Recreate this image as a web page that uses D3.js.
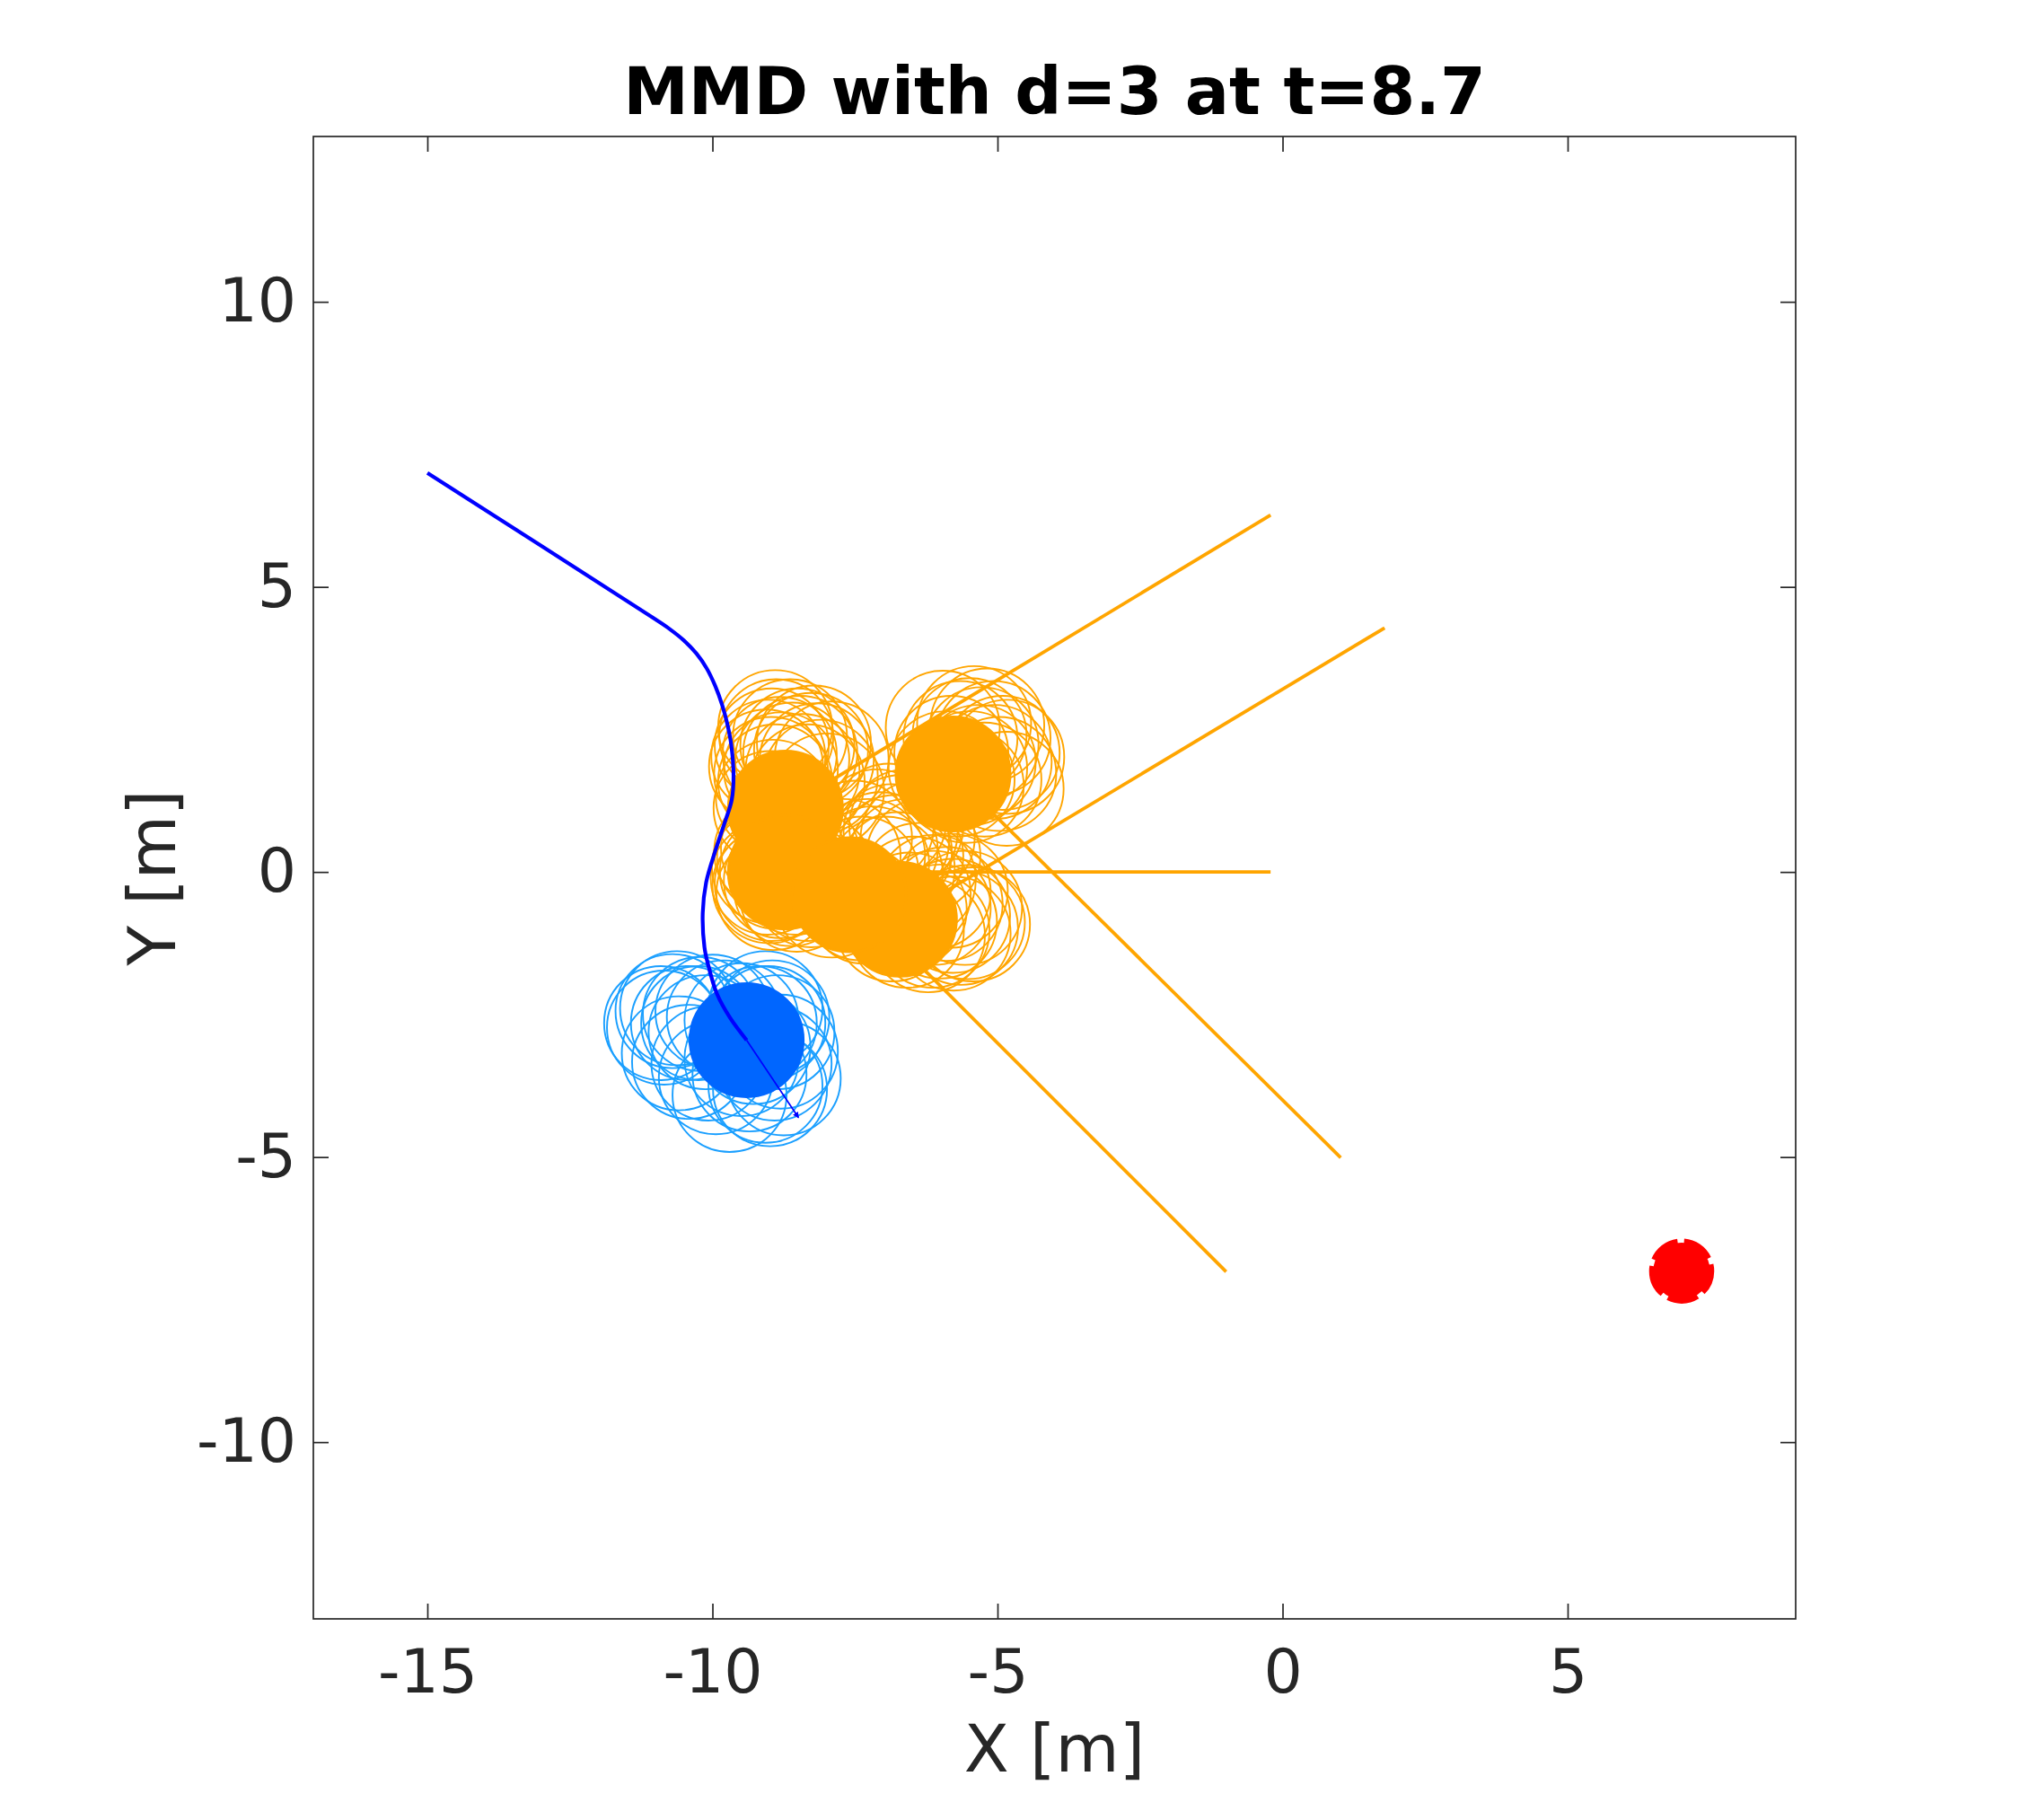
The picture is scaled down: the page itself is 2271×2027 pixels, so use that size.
<!DOCTYPE html>
<html>
<head>
<meta charset="utf-8">
<script src="https://cdn.jsdelivr.net/npm/d3@7"></script>
<style>
  html, body { margin: 0; padding: 0; background: #fff; }
  svg { display: block; font-family: "DejaVu Sans", sans-serif; }
</style>
</head>
<body>
<div id="chart"></div>
<script>
// MMD snapshot: robot path, obstacle tracks and sampled obstacle / robot positions

const xTicks = [-15, -10, -5, 0, 5];
const yTicks = [-10, -5, 0, 5, 10];
const xDomain = [-17, 9];
const yDomain = [-13.1, 12.9];

const bodyRadius = 1.0;
const goalRadius = 0.5;
const goal = [7, -7];

// robot trajectory so far (blue)
const robotPath = [
  [-15, 7], [-11.0, 4.43], [-10.75, 4.26], [-10.5, 4.06], [-10.28, 3.83], [-10.1, 3.57],
  [-9.95, 3.26], [-9.83, 2.93], [-9.74, 2.6], [-9.67, 2.23], [-9.63, 1.69], [-9.66, 1.27],
  [-9.79, 0.85], [-9.95, 0.37], [-10.11, -0.18], [-10.17, -0.72], [-10.14, -1.32],
  [-10.08, -1.61], [-9.92, -2.14], [-9.69, -2.56], [-9.40, -2.95]
];
const robotHeading = [-8.49, -4.31];

// robot position samples, offsets from current position
const robotSamples = [
  [-1.5, 0.3], [-1.22, 0.56], [-1.01, -0.38], [-0.85, 0.3], [-0.72, 0.14],
  [-0.54, -0.65], [-0.3, -0.96], [0.33, -0.8], [0.65, -0.67], [-0.67, -0.41],
  [0.49, -0.41], [0.41, -0.86], [0.38, 0.3], [0.33, 0.56], [-1.3, 0.51],
  [-0.82, 0.46], [-0.4, 0.4], [-0.09, 0.35], [0.23, 0.3], [-1.45, 0.22],
  [-1.19, -0.23], [-0.09, -0.33], [0.12, -0.12], [-1.03, 0.3], [0.54, 0.14],
  [-0.6, 0.5], [0.05, -0.6], [0.45, 0.4], [0.6, -0.2]
];

// obstacles: start point and current position (orange)
const obstacleStart = [[-0.21, 6.26], [1.79, 4.28], [-0.21, 0.0], [1.02, -5.01], [-0.99, -7.01]];
const obstacleNow = [[-8.72, 1.12], [-6.72, -0.83], [-8.72, 0.0], [-5.78, 1.72], [-7.6, -0.4]];

// obstacle position samples, offsets from current position
const obstacleSamples = [
  [[-0.18, 1.42], [0.26, 0.97], [0.81, 0.87], [-0.34, 0.73], [-0.08, 0.68], [-0.16, 1.26],
   [0.21, 1.1], [0.73, 0.31], [0.39, 0.47], [-0.24, 1.1], [0.08, 1.26], [0.55, 0.84],
   [-0.26, 0.0], [-0.18, 0.47], [0.45, 1.02], [0.12, 0.85], [-0.3, 0.9], [0.62, 0.55],
   [-0.22, 0.2], [-0.25, 0.6], [-0.1, 0.95], [0.3, 0.65], [0.5, 1.15]],
  [[1.29, -0.09], [0.94, 0.06], [0.6, 0.48], [0.58, -0.2], [0.13, -0.2], [0.5, -0.28],
   [0.42, 1.11], [0.18, 0.17], [0.81, 0.27], [0.34, 0.69], [-0.13, -0.09], [1.08, -0.15],
   [0.71, -0.04], [0.9, 0.5], [0.25, 0.45], [1.15, 0.2], [1.2, -0.05], [0.95, -0.25],
   [0.6, 0.2]],
  [[-0.31, -0.1], [-0.21, -0.37], [-0.24, -0.21], [-0.08, -0.16], [0.18, -0.1], [-0.29, 0.1],
   [0.39, -0.21], [0.08, 0.21], [-0.13, 0.42], [0.55, 0.0], [0.3, 0.3], [-0.2, 0.25],
   [0.1, -0.3], [0.45, -0.32], [-0.28, -0.25], [-0.15, 0.0], [0.2, -0.4], [-0.25, 0.35]],
  [[-0.18, 0.81], [0.29, 0.68], [0.5, 0.52], [-0.13, 0.1], [0.37, 0.89], [0.73, 0.21],
   [0.94, -0.26], [0.55, -0.1], [0.24, -0.21], [0.13, 0.63], [0.71, 0.63], [0.81, 0.0],
   [-0.03, 0.37], [0.45, 0.21], [0.87, 0.37], [0.08, -0.1], [0.6, 0.85], [0.95, 0.3],
   [0.3, 0.1]],
  [[-0.3, -0.1], [0.2, -0.15], [0.75, 0.94], [0.48, 1.2], [0.33, 0.68], [0.22, 0.37],
   [0.64, 0.37], [-0.1, 0.68], [1.0, 0.68], [0.27, -0.21], [0.9, 1.1], [0.55, 0.8],
   [0.1, 1.0], [0.85, 0.45], [1.0, 1.2], [1.2, 1.0], [0.7, 1.3], [0.4, 0.55], [0.8, 0.75]]
];

const width = 2271, height = 2027;
const plot = { left: 349, right: 2000, top: 152, bottom: 1803 };
const axisColor = "#262626";
const orange = "#ffa500";

const svg = d3.select("#chart").append("svg")
  .attr("width", width)
  .attr("height", height);

svg.append("rect").attr("width", width).attr("height", height).attr("fill", "#fff");

const x = d3.scaleLinear().domain(xDomain).range([plot.left, plot.right]);
const y = d3.scaleLinear().domain(yDomain).range([plot.bottom, plot.top]);
const rpx = r => x(r) - x(0);

// axes (ticks inward, mirrored on top/right)
const tickLen = 17;
function styleAxis(g) {
  g.select(".domain").remove();
  g.selectAll(".tick line").attr("stroke", axisColor).attr("stroke-width", 1.7);
  g.selectAll(".tick text").attr("fill", axisColor).attr("font-size", 68)
    .attr("font-family", "DejaVu Sans");
}

svg.append("g")
  .attr("transform", `translate(0,${plot.bottom})`)
  .call(d3.axisBottom(x).tickValues(xTicks).tickSize(-tickLen).tickPadding(34).tickFormat(d3.format("d")))
  .call(styleAxis);
svg.append("g")
  .attr("transform", `translate(0,${plot.top})`)
  .call(d3.axisTop(x).tickValues(xTicks).tickSize(-tickLen).tickFormat(""))
  .call(styleAxis);
svg.append("g")
  .attr("transform", `translate(${plot.left},0)`)
  .call(d3.axisLeft(y).tickValues(yTicks).tickSize(-tickLen).tickPadding(19).tickFormat(d3.format("d")))
  .call(styleAxis);
svg.append("g")
  .attr("transform", `translate(${plot.right},0)`)
  .call(d3.axisRight(y).tickValues(yTicks).tickSize(-tickLen).tickFormat(""))
  .call(styleAxis);

// hyphen minus as in the reference
svg.selectAll(".tick text").text(function () { return this.textContent.replace("\u2212", "-"); });

svg.append("rect")
  .attr("x", plot.left).attr("y", plot.top)
  .attr("width", plot.right - plot.left).attr("height", plot.bottom - plot.top)
  .attr("fill", "none").attr("stroke", axisColor).attr("stroke-width", 1.7);

const g = svg.append("g");

// sampled positions (outlines)
const robotNow = robotPath[robotPath.length - 1];
g.selectAll(".robot-sample")
  .data(robotSamples)
  .enter().append("circle")
  .attr("class", "robot-sample")
  .attr("cx", d => x(robotNow[0] + d[0]))
  .attr("cy", d => y(robotNow[1] + d[1]))
  .attr("r", rpx(bodyRadius))
  .attr("fill", "none")
  .attr("stroke", "#1a9fff")
  .attr("stroke-width", 1.9);

obstacleSamples.forEach((samples, i) => {
  const c = obstacleNow[i];
  g.selectAll(".obs-sample-" + i)
    .data(samples)
    .enter().append("circle")
    .attr("class", "obs-sample-" + i)
    .attr("cx", d => x(c[0] + d[0]))
    .attr("cy", d => y(c[1] + d[1]))
    .attr("r", rpx(bodyRadius))
    .attr("fill", "none")
    .attr("stroke", orange)
    .attr("stroke-width", 1.9);
});

// obstacle tracks
g.selectAll(".obs-track")
  .data(obstacleStart)
  .enter().append("line")
  .attr("class", "obs-track")
  .attr("x1", d => x(d[0]))
  .attr("y1", d => y(d[1]))
  .attr("x2", (d, i) => x(obstacleNow[i][0]))
  .attr("y2", (d, i) => y(obstacleNow[i][1]))
  .attr("stroke", orange)
  .attr("stroke-width", 3.8);

// obstacle bodies
g.selectAll(".obs-body")
  .data(obstacleNow)
  .enter().append("circle")
  .attr("class", "obs-body")
  .attr("cx", d => x(d[0]))
  .attr("cy", d => y(d[1]))
  .attr("r", rpx(bodyRadius))
  .attr("fill", orange)
  .attr("stroke", orange)
  .attr("stroke-width", 3);

// robot body
g.append("circle")
  .attr("cx", x(robotNow[0]))
  .attr("cy", y(robotNow[1]))
  .attr("r", rpx(bodyRadius))
  .attr("fill", "#0066ff")
  .attr("stroke", "#0066ff")
  .attr("stroke-width", 2);

// robot path
const line = d3.line().x(d => x(d[0])).y(d => y(d[1])).curve(d3.curveCatmullRom.alpha(0.5));
g.append("path")
  .datum(robotPath)
  .attr("d", line)
  .attr("fill", "none")
  .attr("stroke", "#0000ff")
  .attr("stroke-width", 4.2);

// heading arrow
svg.append("defs").append("marker")
  .attr("id", "arrow")
  .attr("viewBox", "0 0 10 10")
  .attr("refX", 9).attr("refY", 5)
  .attr("markerWidth", 4).attr("markerHeight", 4)
  .attr("orient", "auto")
  .append("path").attr("d", "M0,0L10,5L0,10z").attr("fill", "#0000ff");

g.append("line")
  .attr("x1", x(robotNow[0])).attr("y1", y(robotNow[1]))
  .attr("x2", x(robotHeading[0])).attr("y2", y(robotHeading[1]))
  .attr("stroke", "#0000ff")
  .attr("stroke-width", 1.7)
  .attr("marker-end", "url(#arrow)");

// goal
g.append("circle")
  .attr("cx", x(goal[0]))
  .attr("cy", y(goal[1]))
  .attr("r", rpx(goalRadius))
  .attr("fill", "#ff0000")
  .attr("stroke", "#ff0000")
  .attr("stroke-width", 9)
  .attr("stroke-dasharray", "33 7")
  .attr("stroke-dashoffset", 8);

// texts
svg.append("text")
  .attr("x", (plot.left + plot.right) / 2)
  .attr("y", 127)
  .attr("text-anchor", "middle")
  .attr("font-size", 73)
  .attr("font-weight", "bold")
  .attr("fill", "#000")
  .text("MMD with d=3 at t=8.7");

svg.append("text")
  .attr("x", (plot.left + plot.right) / 2)
  .attr("y", 1973)
  .attr("text-anchor", "middle")
  .attr("font-size", 73)
  .attr("fill", axisColor)
  .text("X [m]");

svg.append("text")
  .attr("transform", `translate(195,${(plot.top + plot.bottom) / 2}) rotate(-90)`)
  .attr("text-anchor", "middle")
  .attr("font-size", 73)
  .attr("fill", axisColor)
  .text("Y [m]");
</script>
</body>
</html>
